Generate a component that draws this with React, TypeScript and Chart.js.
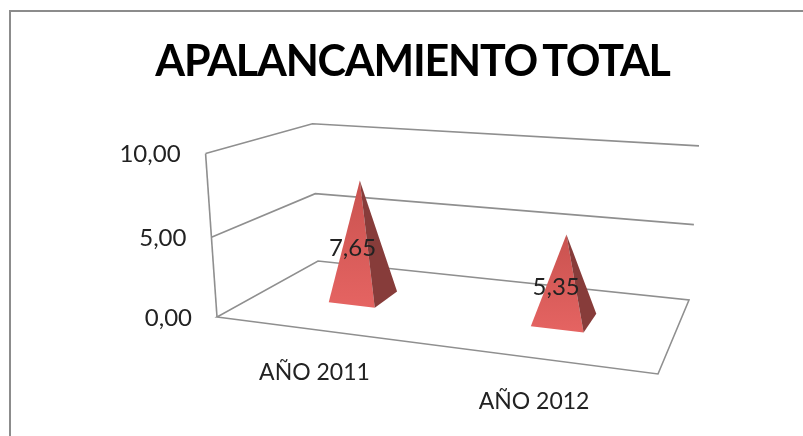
import React, { useEffect, useRef } from "react";
import { Chart, registerables } from "chart.js";

Chart.register(...registerables);

const titleText = "APALANCAMIENTO TOTAL";
const categories = ["AÑO 2011", "AÑO 2012"];
const seriesValues = [7.65, 5.35];
const tickStep = 5;
const axisMax = 10;

const FONT = "Lato, 'Open Sans', sans-serif";
const fmt = (v: number) => v.toFixed(2).replace(".", ",");

// Picture-plane corners of the 3D box: floor (t=0) and wall tops (t=1)
const FL = [217, 317], FR = [658, 374], BR = [689, 300], BL = [318, 261];
const topPts = [
  { u: 0, v: 0, X: 205.3, Y: 153.3 },
  { u: 0, v: 1, X: 312.7, Y: 124.7 },
  { u: 1, v: 1, X: 699, Y: 145 },
];

function makeProjection() {
  const sx = FL[0] - FR[0] + BR[0] - BL[0], sy = FL[1] - FR[1] + BR[1] - BL[1];
  const dx1 = FR[0] - BR[0], dx2 = BL[0] - BR[0], dy1 = FR[1] - BR[1], dy2 = BL[1] - BR[1];
  const den = dx1 * dy2 - dx2 * dy1;
  const g = (sx * dy2 - dx2 * sy) / den, h = (dx1 * sy - sx * dy1) / den;
  const a = FR[0] - FL[0] + g * FR[0], b = BL[0] - FL[0] + h * BL[0], c = FL[0];
  const d = FR[1] - FL[1] + g * FR[1], e = BL[1] - FL[1] + h * BL[1], f = FL[1];
  const rows = topPts.map((o) => {
    const w = g * o.u + h * o.v + 1;
    return { X: o.X, Y: o.Y, A: o.X * w - (a * o.u + b * o.v + c), B: o.Y * w - (d * o.u + e * o.v + f) };
  });
  const mean = (k: "X" | "Y" | "A" | "B") => rows.reduce((s, r) => s + r[k], 0) / rows.length;
  const mX = mean("X"), mY = mean("Y"), mA = mean("A"), mB = mean("B");
  let num = 0, dn = 0;
  rows.forEach((r) => {
    num -= (r.X - mX) * (r.A - mA) + (r.Y - mY) * (r.B - mB);
    dn += (r.X - mX) ** 2 + (r.Y - mY) ** 2;
  });
  const rr = num / dn, p = mA + rr * mX, q = mB + rr * mY;
  return (u: number, v: number, t: number) => {
    const w = g * u + h * v + rr * t + 1;
    return [(a * u + b * v + p * t + c) / w, (d * u + e * v + q * t + f) / w];
  };
}
const project = makeProjection();

const scene = {
  id: "scene",
  beforeDraw(chart: any) {
    chart.ctx.letterSpacing = "-1.2px";
    chart.ctx.wordSpacing = "-4px";
  },
  beforeDatasetsDraw(chart: any) {
    const { ctx, scales } = chart;
    ctx.letterSpacing = "0px";
    ctx.wordSpacing = "0px";
    const x = scales.x, y = scales.y;
    const T = (val: number) => (y.bottom - y.getPixelForValue(val)) / y.height;
    const U = (i: number) => (x.getPixelForValue(i) - x.left) / x.width;
    const path = (pts: number[][], close = false) => {
      ctx.beginPath();
      pts.forEach((pt, i) => (i ? ctx.lineTo(pt[0], pt[1]) : ctx.moveTo(pt[0], pt[1])));
      if (close) ctx.closePath();
    };
    ctx.save();
    // outer frame
    ctx.strokeStyle = "#8c8c8c";
    ctx.lineWidth = 2;
    path([[10, 436], [10, 11], [803, 11]]);
    ctx.stroke();

    // walls and floor
    ctx.strokeStyle = "#8f8f8f";
    ctx.lineWidth = 1.6;
    y.ticks.forEach((tk: any) => {
      const t = T(tk.value);
      if (t > 0) {
        path([project(0, 0, t), project(0, 1, t), project(1, 1, t)]);
        ctx.stroke();
      }
    });
    path([project(0, 0, 1), project(0, 0, 0)]);
    ctx.stroke();
    path([project(0, 0, 0), project(1, 0, 0), project(1, 1, 0), project(0, 1, 0)], true);
    ctx.stroke();

    // y tick labels
    ctx.fillStyle = "#222222";
    ctx.font = `24px ${FONT}`;
    ctx.textAlign = "right";
    ctx.textBaseline = "middle";
    y.ticks.forEach((tk: any) => {
      const pt = project(0, 0, T(tk.value));
      ctx.fillText(fmt(tk.value), pt[0] - 25, pt[1] + 1);
    });

    // x category labels
    ctx.font = `23px ${FONT}`;
    ctx.textAlign = "center";
    categories.forEach((_, i) => {
      const pt = project(U(i), 0, 0);
      ctx.fillText(x.getLabelForValue(i), pt[0] - 1, pt[1] + 43);
    });

    // pyramids
    const du = 0.06, dvFront = 0.13, dvBack = 0.14;
    chart.data.datasets[0].data.forEach((val: number, i: number) => {
      const u = U(i), v = 0.5, t = T(val);
      const apex = project(u, v, t);
      const fl = project(u - du, v - dvFront, 0);
      const fr = project(u + du, v - dvFront, 0);
      const br = project(u + du, v + dvBack, 0);
      const grad = ctx.createLinearGradient(0, apex[1], 0, fr[1]);
      grad.addColorStop(0, "#c9524f");
      grad.addColorStop(1, "#e56462");
      ctx.fillStyle = grad;
      path([apex, fl, fr], true);
      ctx.fill();
      ctx.fillStyle = "#873c3a";
      path([apex, fr, br], true);
      ctx.fill();
    });

    // data labels
    ctx.font = `24px ${FONT}`;
    ctx.fillStyle = "#222222";
    chart.data.datasets[0].data.forEach((val: number, i: number) => {
      const pt = project(U(i), 0.5, T(val) / 2);
      ctx.textAlign = "center";
      ctx.fillText(fmt(val), pt[0] - 9, pt[1] + 9);
    });
    ctx.restore();
  },
};

export default function App() {
  const ref = useRef<HTMLCanvasElement>(null);
  useEffect(() => {
    document.body.style.margin = "0";
    const chart = new Chart(ref.current!, {
      type: "bar",
      data: {
        labels: categories,
        datasets: [{ label: titleText, data: seriesValues, backgroundColor: "rgba(0,0,0,0)", borderWidth: 0 }],
      },
      options: {
        responsive: false,
        animation: false,
        layout: { padding: { left: 22, right: 0, top: 0, bottom: 120 } },
        scales: {
          x: { display: false },
          y: { display: false, min: 0, max: axisMax, ticks: { stepSize: tickStep } },
        },
        plugins: {
          legend: { display: false },
          tooltip: { enabled: false },
          title: {
            display: true,
            text: titleText,
            color: "#000000",
            font: { family: FONT, size: 43, weight: "bold", lineHeight: 1.2 },
            padding: { top: 36, bottom: 66 },
          },
        },
      },
      plugins: [scene],
    } as any);
    return () => chart.destroy();
  }, []);
  return <canvas ref={ref} width={803} height={436} style={{ display: "block" }} />;
}
